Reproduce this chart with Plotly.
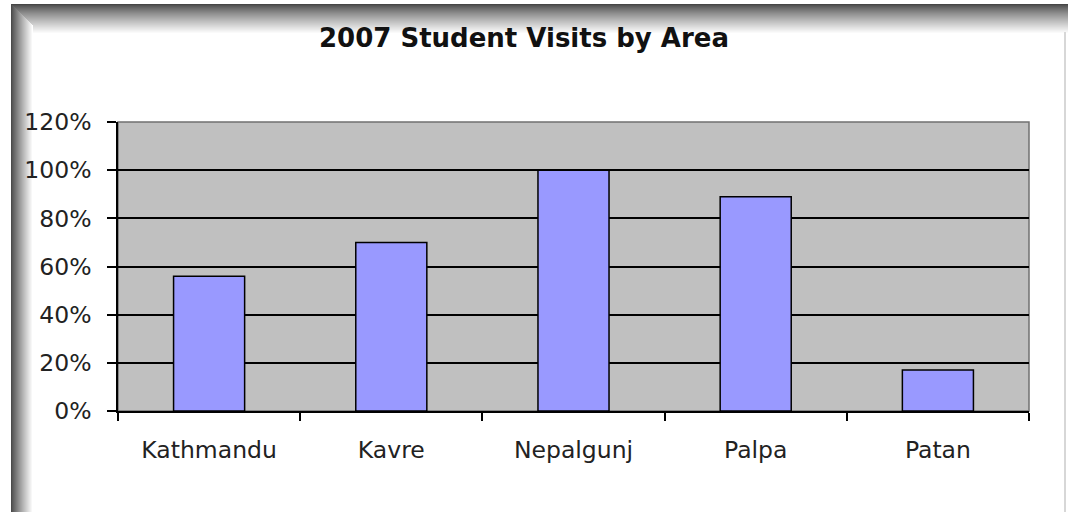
import plotly.graph_objects as go

categories = ["Kathmandu", "Kavre", "Nepalgunj", "Palpa", "Patan"]
visits_pct = [0.56, 0.70, 1.00, 0.89, 0.17]
y_tick_vals = [0, 0.2, 0.4, 0.6, 0.8, 1.0, 1.2]
y_tick_text = ["0%", "20%", "40%", "60%", "80%", "100%", "120%"]

W, H = 1068, 512
L, R, T, B = 118, 1029, 122, 411


def px(x):
    return (x - L) / (R - L)


def py(y):
    return (B - y) / (B - T)


def shade(v):
    c = int(round(v))
    return f"rgb({c},{c},{c})"


fig = go.Figure(
    go.Bar(
        x=categories,
        y=visits_pct,
        marker=dict(color="#9999FF", line=dict(color="#000000", width=1.5)),
        width=0.39,
        hoverinfo="skip",
    )
)

shapes = []
# top shadow band
n_top = 30
for i in range(n_top):
    t = i / (n_top - 1)
    val = 70 + (255 - 70) * (t ** 0.8)
    shapes.append(dict(type="rect", xref="paper", yref="paper",
                       x0=px(11 + i * 0.5), x1=px(W), y0=py(4 + i + 1), y1=py(4 + i),
                       fillcolor=shade(val), line=dict(width=0), layer="below"))
# left shadow band
n_left = 22
for i in range(n_left):
    t = i / (n_left - 1)
    val = 75 + (255 - 75) * (t ** 0.9)
    shapes.append(dict(type="rect", xref="paper", yref="paper",
                       x0=px(11 + i), x1=px(12 + i), y0=py(H), y1=py(4 + i),
                       fillcolor=shade(val), line=dict(width=0), layer="below"))
# right thin edge
shapes.append(dict(type="rect", xref="paper", yref="paper",
                   x0=px(1064), x1=px(1066), y0=py(H), y1=py(32),
                   fillcolor="rgb(215,215,215)", line=dict(width=0), layer="below"))
# plot area border (top/right gray)
shapes.append(dict(type="rect", xref="paper", yref="paper", x0=0, x1=1, y0=0, y1=1,
                   line=dict(color="#707070", width=1.5), fillcolor="rgba(0,0,0,0)",
                   layer="below"))

FONT = "DejaVu Sans, Verdana, sans-serif"

fig.update_layout(
    width=W, height=H,
    margin=dict(l=L, r=W - R, t=T, b=H - B),
    paper_bgcolor="#FFFFFF",
    plot_bgcolor="#C0C0C0",
    title=dict(text="<b>2007 Student Visits by Area</b>", x=524 / W, xref="container",
               xanchor="center", y=1 - 38 / H, yanchor="middle",
               font=dict(family=FONT, size=26, color="#111111")),
    font=dict(family=FONT, size=23.5, color="#222222"),
    showlegend=False,
    bargap=0.61,
    shapes=shapes,
    hovermode=False,
)

fig.update_yaxes(range=[0, 1.2], tickvals=y_tick_vals, ticktext=y_tick_text,
                 showgrid=True, gridcolor="#000000", gridwidth=1.5,
                 showline=True, linecolor="#000000", linewidth=1.5,
                 ticks="outside", ticklen=9, tickcolor="#000000", tickwidth=1.5,
                 ticklabelstandoff=11,
                 zeroline=False, fixedrange=True)
fig.update_xaxes(showgrid=False, showline=True, linecolor="#000000", linewidth=1.5,
                 ticks="outside", ticklen=8, tickcolor="#000000", tickwidth=1.5,
                 tickson="boundaries", ticklabelstandoff=17, fixedrange=True)

fig.write_html("out.html", config={"displayModeBar": False},
               post_script="document.body.style.margin='0';")
